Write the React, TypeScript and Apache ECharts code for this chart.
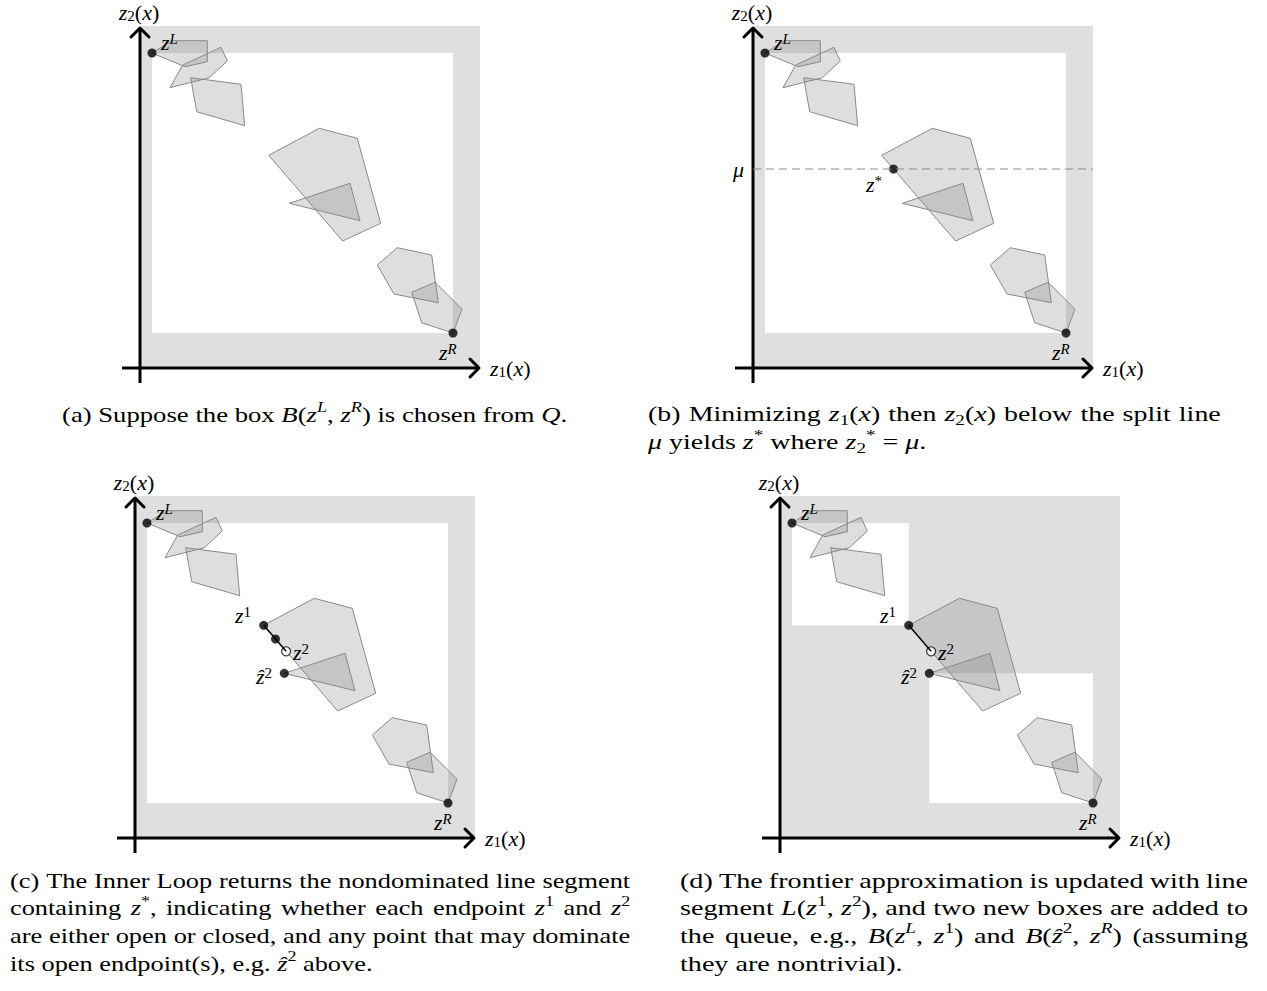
import React, { useEffect, useRef } from "react";
import * as echarts from "echarts";

// ---------- data (axis units, origin at the axes' crossing) ----------
const outerBox = [0, 0, 340, 342];
const innerBox = [12, 35, 313, 315];
const zL = [12, 315];
const zR = [313, 35];
const muLevel = 199;
const muLineExtent = [0, 340];
const zStar = [140.5, 199];
const z1 = [128.7, 212.7];
const z2 = [151.1, 186.7];
const zHat2 = [149.3, 164.7];
const polygons = [
  [[12, 315], [31.7, 327.3], [67.3, 327.3], [67.3, 306.3], [45, 301.3]],
  [[30, 280.3], [42.7, 303], [81, 320.7], [87.3, 307], [69.3, 290.3]],
  [[50.7, 290.3], [101, 283.7], [104.7, 242.3], [56.7, 256.3]],
  [[128.7, 212.7], [179.3, 239.7], [217.3, 229.7], [240.7, 144.7], [202.7, 127]],
  [[149.3, 164.7], [210, 184.7], [220, 147.3]],
  [[237.3, 103], [257.3, 120.3], [291.7, 113], [298.3, 65.3], [254, 74]],
  [[271.7, 75.7], [295, 85.7], [322, 58.7], [313, 35], [281.7, 45.3]],
];
const axisArrows = [
  [-18, 0, 339, 0],
  [0, -15, 0, 340],
];

// labels inside the panels: [x, y, rich text, align]
const commonLabels: [number, number, string, string][] = [
  [21, 326, "{mi|z}{supi|L}", "left"],
  [299, 16, "{mi|z}{supi|R}", "left"],
  [-1, 356, "{mi|z}{sub|2}{rm|(}{mi|x}{rm|)}", "center"],
  [350, 0, "{mi|z}{sub|1}{rm|(}{mi|x}{rm|)}", "left"],
];
const panelBLabels: [number, number, string, string][] = [
  [-14.5, 199, "{mi|μ}", "center"],
  [113, 184, "{mi|z}{sup|*}", "left"],
];
const segmentLabels: [number, number, string, string][] = [
  [100, 223, "{mi|z}{sup|1}", "left"],
  [158, 186, "{mi|z}{sup|2}", "left"],
  [121, 162, "{mi|ẑ}{sup|2}", "left"],
];

// captions
const captionA = [
  "{n|(a) Suppose the box }{i|B}{n|(}{i|z}{supi|L}{n|, }{i|z}{supi|R}{n|) is chosen from }{i|Q}{n|.}",
];
const captionB = [
  "{n|(b) Minimizing }{i|z}{sub|1}{n|(}{i|x}{n|) then }{i|z}{sub|2}{n|(}{i|x}{n|) below the split line}",
  "{i|μ}{n| yields }{i|z}{supn|*}{n| where }{i|z}{sub|2}{supn|*}{n| = }{i|μ}{n|.}",
];
const captionC = [
  "{n|(c) The Inner Loop returns the nondominated line segment}",
  "{n|containing }{i|z}{supn|*}{n|, indicating whether each endpoint }{i|z}{supn|1}{n| and }{i|z}{supn|2}",
  "{n|are either open or closed, and any point that may dominate}",
  "{n|its open endpoint(s), e.g. }{i|ẑ}{supn|2}{n| above.}",
];
const captionD = [
  "{n|(d) The frontier approximation is updated with line}",
  "{n|segment }{i|L}{n|(}{i|z}{supn|1}{n|, }{i|z}{supn|2}{n|), and two new boxes are added to}",
  "{n|the queue, e.g., }{i|B}{n|(}{i|z}{supi|L}{n|, }{i|z}{supn|1}{n|) and }{i|B}{n|(}{i|ẑ}{supn|2}{n|, }{i|z}{supi|R}{n|) (assuming}",
  "{n|they are nontrivial).}",
];

// ---------- layout ----------
const PANEL_ORIGINS = [
  [140, 368],
  [753, 368],
  [135, 838],
  [780, 838],
];
const CAPTIONS = [
  { x: 62, y: 414, lines: captionA, width: 505 },
  { x: 648, y: 414, lines: captionB, width: 573 },
  { x: 10, y: 880, lines: captionC, width: 620 },
  { x: 680, y: 880, lines: captionD, width: 568 },
];
const LINE_GAP = 27.6;
const CAP_SIZE = 22;
const SERIF = '"Liberation Serif", "DejaVu Serif", serif';
const GRAY_BOX = "#dfdfdf";
const POLY_FILL = "rgba(128,128,128,0.26)";
const POLY_STROKE = "#8a8a8a";

const capRich: Record<string, any> = {
  n: { fontFamily: SERIF, fontSize: CAP_SIZE, lineHeight: 28, color: "#000" },
  i: { fontFamily: SERIF, fontSize: CAP_SIZE, fontStyle: "italic", lineHeight: 28, color: "#000" },
  supn: { fontFamily: SERIF, fontSize: 15, lineHeight: 15, verticalAlign: "top", color: "#000" },
  supi: { fontFamily: SERIF, fontSize: 15, fontStyle: "italic", lineHeight: 15, verticalAlign: "top", color: "#000" },
  sub: { fontFamily: SERIF, fontSize: 15, lineHeight: 15, verticalAlign: "bottom", color: "#000" },
};

const labRich: Record<string, any> = {
  mi: { fontFamily: SERIF, fontSize: 22, fontStyle: "italic", lineHeight: 22, fill: "#000", color: "#000" },
  rm: { fontFamily: SERIF, fontSize: 22, lineHeight: 22, fill: "#000", color: "#000" },
  sup: { fontFamily: SERIF, fontSize: 15, lineHeight: 11, verticalAlign: "top", fill: "#000", color: "#000" },
  supi: { fontFamily: SERIF, fontSize: 15, fontStyle: "italic", lineHeight: 11, verticalAlign: "top", fill: "#000", color: "#000" },
  sub: { fontFamily: SERIF, fontSize: 15, lineHeight: 11, verticalAlign: "bottom", fill: "#000", color: "#000" },
};

function parseRich(s: string): [string, string][] {
  const re = /\{(\w+)\|([^}]*)\}/g;
  const out: [string, string][] = [];
  let m: RegExpExecArray | null;
  while ((m = re.exec(s))) out.push([m[1], m[2]]);
  return out;
}

function buildCaptionGraphics() {
  const ctx = document.createElement("canvas").getContext("2d") as CanvasRenderingContext2D;
  const fontOf = (st: string) => {
    const r = capRich[st];
    return `${r.fontStyle || "normal"} ${r.fontSize}px "Liberation Serif"`;
  };
  const meas = (st: string, t: string) => {
    ctx.font = fontOf(st);
    return ctx.measureText(t).width;
  };
  const spaceW = meas("n", " ");
  const info = (line: string) => {
    const toks = parseRich(line);
    let w = 0;
    let spaces = 0;
    toks.forEach(([st, tx]) => {
      tx.split(" ").forEach((p, k) => {
        if (k > 0) {
          spaces++;
          w += spaceW;
        }
        if (p) w += meas(st, p);
      });
    });
    return { toks, w, spaces };
  };
  const build = (toks: [string, string][]) => {
    let out = "";
    toks.forEach(([st, tx]) => {
      tx.split(" ").forEach((p, k) => {
        if (k > 0) out += "{sp| }";
        if (p) out += `{${st}|${p}}`;
      });
    });
    return out;
  };
  // per-paragraph horizontal scale (mean ratio of justified lines)
  const paraScale = CAPTIONS.map((c) => {
    if (c.lines.length < 2) return c.width / info(c.lines[0]).w;
    const r = c.lines.slice(0, -1).map((l) => c.width / info(l).w);
    return (r.reduce((a, b) => a + b, 0) / r.length) * 0.985;
  });

  const els: any[] = [];
  CAPTIONS.forEach((c, ci) => {
    const Sp = paraScale[ci];
    c.lines.forEach((l, k) => {
      const inf = info(l);
      let sw = spaceW;
      let S = Sp;
      const justified = c.lines.length > 1 && k < c.lines.length - 1;
      if (justified && inf.spaces > 0) {
        sw = spaceW + (c.width / S - inf.w) / inf.spaces;
        if (sw < 0.55 * spaceW) {
          sw = 0.55 * spaceW;
          S = c.width / (inf.w + inf.spaces * (sw - spaceW));
        }
      }
      els.push({
        type: "text",
        x: c.x,
        y: c.y + k * LINE_GAP,
        scaleX: S,
        silent: true,
        style: {
          text: build(inf.toks),
          rich: { ...capRich, sp: { fontFamily: SERIF, fontSize: CAP_SIZE, lineHeight: 28, width: sw } },
          align: "left",
          verticalAlign: "middle",
          fill: "#000",
        },
      });
    });
  });
  return els;
}

function rectSeries(p: number, boxes: { value: number[]; color: string }[]) {
  return {
    type: "custom",
    xAxisIndex: p,
    yAxisIndex: p,
    encode: { x: [0, 2], y: [1, 3] },
    silent: true,
    data: boxes.map((b) => ({ value: b.value, itemStyle: { color: b.color } })),
    renderItem: (params: any, api: any) => {
      const a = api.coord([api.value(0), api.value(1)]);
      const b = api.coord([api.value(2), api.value(3)]);
      return {
        type: "rect",
        shape: {
          x: Math.min(a[0], b[0]),
          y: Math.min(a[1], b[1]),
          width: Math.abs(b[0] - a[0]),
          height: Math.abs(b[1] - a[1]),
        },
        style: { fill: api.visual("color") },
      };
    },
  };
}

function polygonSeries(p: number) {
  return {
    type: "custom",
    xAxisIndex: p,
    yAxisIndex: p,
    silent: true,
    data: polygons.map((pts) => pts[0]),
    renderItem: (params: any, api: any) => {
      const pts = polygons[params.dataIndex].map((pt) => api.coord(pt));
      return {
        type: "polygon",
        shape: { points: pts },
        style: { fill: POLY_FILL, stroke: POLY_STROKE, lineWidth: 1 },
      };
    },
  };
}

function axisSeries(p: number) {
  return {
    type: "custom",
    xAxisIndex: p,
    yAxisIndex: p,
    encode: { x: [0, 2], y: [1, 3] },
    silent: true,
    data: axisArrows,
    renderItem: (params: any, api: any) => {
      const a = api.coord([api.value(0), api.value(1)]);
      const b = api.coord([api.value(2), api.value(3)]);
      const dx = b[0] - a[0];
      const dy = b[1] - a[1];
      const len = Math.hypot(dx, dy);
      const ux = dx / len;
      const uy = dy / len;
      const px = -uy;
      const py = ux;
      const hs = 9;
      const l = [b[0] - ux * hs + px * hs, b[1] - uy * hs + py * hs];
      const r = [b[0] - ux * hs - px * hs, b[1] - uy * hs - py * hs];
      return {
        type: "group",
        children: [
          {
            type: "line",
            shape: { x1: a[0], y1: a[1], x2: b[0] - ux * 1.5, y2: b[1] - uy * 1.5 },
            style: { stroke: "#000", lineWidth: 3 },
          },
          {
            type: "polyline",
            shape: { points: [l, b, r] },
            style: { stroke: "#000", lineWidth: 3, fill: "none", lineJoin: "round", lineCap: "round" },
          },
        ],
      };
    },
  };
}

function labelSeries(p: number, labels: [number, number, string, string][]) {
  return {
    type: "custom",
    xAxisIndex: p,
    yAxisIndex: p,
    silent: true,
    data: labels.map((l) => [l[0], l[1]]),
    renderItem: (params: any, api: any) => {
      const lab = labels[params.dataIndex];
      const pt = api.coord([api.value(0), api.value(1)]);
      return {
        type: "text",
        x: pt[0],
        y: pt[1],
        style: {
          text: lab[2],
          rich: labRich,
          fontFamily: SERIF,
          fontSize: 22,
          align: lab[3],
          verticalAlign: "middle",
          fill: "#000",
        },
      };
    },
  };
}

function dotSeries(p: number, pts: number[][], open: boolean) {
  return {
    type: "scatter",
    xAxisIndex: p,
    yAxisIndex: p,
    silent: true,
    symbol: "circle",
    symbolSize: 9,
    data: pts,
    itemStyle: open
      ? { color: "#fff", borderColor: "#000", borderWidth: 1.2 }
      : { color: "#000", borderWidth: 0 },
  };
}

function lineSeries(p: number, pts: number[][], style: any) {
  return {
    type: "line",
    xAxisIndex: p,
    yAxisIndex: p,
    silent: true,
    symbol: "none",
    data: pts,
    lineStyle: style,
  };
}

function buildOption() {
  const grid: any[] = [];
  const xAxis: any[] = [];
  const yAxis: any[] = [];
  PANEL_ORIGINS.forEach(([ox, oy], p) => {
    grid.push({ left: ox - 40, top: oy - 365, width: 460, height: 405 });
    xAxis.push({ gridIndex: p, type: "value", min: -40, max: 420, show: false });
    yAxis.push({ gridIndex: p, type: "value", min: -40, max: 365, show: false });
  });

  const series: any[] = [];
  // panel a
  series.push(
    rectSeries(0, [
      { value: outerBox, color: GRAY_BOX },
      { value: innerBox, color: "#ffffff" },
    ]),
    polygonSeries(0),
    axisSeries(0),
    dotSeries(0, [zL, zR], false),
    labelSeries(0, commonLabels)
  );
  // panel b
  series.push(
    rectSeries(1, [
      { value: outerBox, color: GRAY_BOX },
      { value: innerBox, color: "#ffffff" },
    ]),
    polygonSeries(1),
    lineSeries(1, [[muLineExtent[0], muLevel], [muLineExtent[1], muLevel]], {
      color: "#8a8a8a",
      width: 1,
      type: [8, 5],
    }),
    axisSeries(1),
    dotSeries(1, [zL, zR, zStar], false),
    labelSeries(1, [...commonLabels, ...panelBLabels])
  );
  // panel c
  series.push(
    rectSeries(2, [
      { value: outerBox, color: GRAY_BOX },
      { value: innerBox, color: "#ffffff" },
    ]),
    polygonSeries(2),
    lineSeries(2, [z1, z2], { color: "#000", width: 1.5 }),
    axisSeries(2),
    dotSeries(2, [zL, zR, z1, zStar, zHat2], false),
    dotSeries(2, [z2], true),
    labelSeries(2, [...commonLabels, ...segmentLabels])
  );
  // panel d
  series.push(
    rectSeries(3, [
      { value: outerBox, color: GRAY_BOX },
      { value: [zL[0], z1[1], z1[0], zL[1]], color: "#ffffff" },
      { value: [zHat2[0], zR[1], zR[0], zHat2[1]], color: "#ffffff" },
    ]),
    polygonSeries(3),
    lineSeries(3, [z1, z2], { color: "#000", width: 1.5 }),
    axisSeries(3),
    dotSeries(3, [zL, zR, z1, zHat2], false),
    dotSeries(3, [z2], true),
    labelSeries(3, [...commonLabels, ...segmentLabels])
  );

  return {
    animation: false,
    backgroundColor: "#ffffff",
    grid,
    xAxis,
    yAxis,
    series,
    graphic: buildCaptionGraphics(),
  };
}

export default function App() {
  const ref = useRef<HTMLDivElement>(null);
  useEffect(() => {
    if (!ref.current) return;
    const chart = echarts.init(ref.current, null, { renderer: "svg" });
    chart.setOption(buildOption() as any);
    return () => chart.dispose();
  }, []);
  return (
    <div
      ref={ref}
      style={{ position: "absolute", left: 0, top: 0, width: 1267, height: 991, background: "#fff" }}
    />
  );
}
